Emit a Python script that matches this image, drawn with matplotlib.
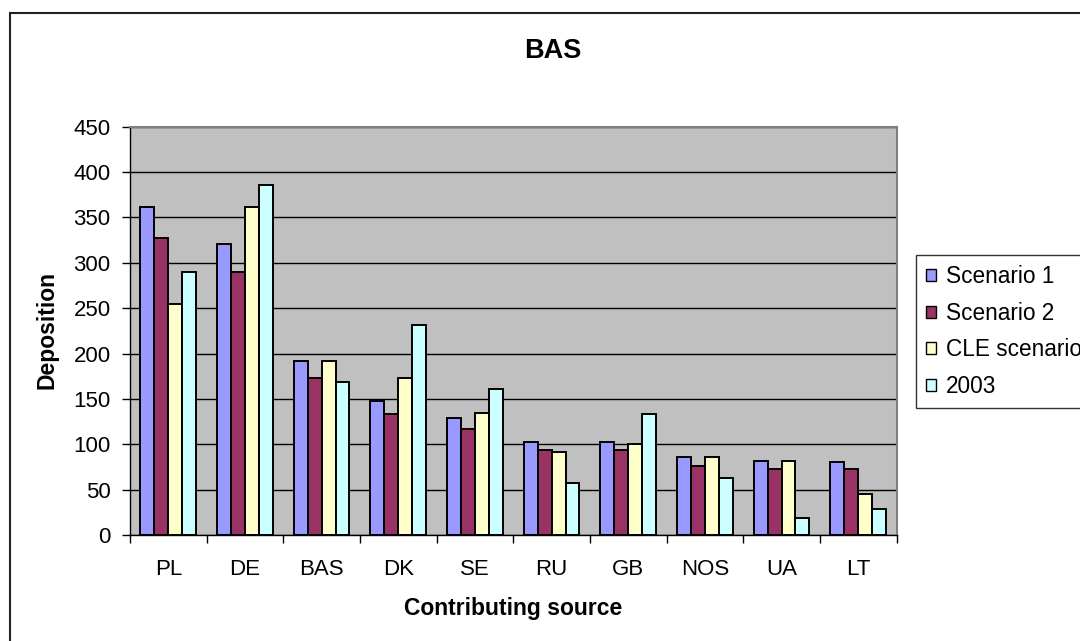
import matplotlib
matplotlib.use('Agg')
import matplotlib.pyplot as plt
import numpy as np
from matplotlib.patches import Rectangle

plt.rcParams['font.family'] = ['Liberation Sans', 'DejaVu Sans']

# deposition by contributing source
sources = ['PL', 'DE', 'BAS', 'DK', 'SE', 'RU', 'GB', 'NOS', 'UA', 'LT']
scenario_1 = [362, 321, 192, 148, 129, 103, 103, 86, 82, 80]
scenario_2 = [327, 290, 173, 133, 117, 94, 94, 76, 73, 73]
cle_scenario = [255, 362, 192, 173, 135, 92, 100, 86, 82, 45]
year_2003 = [290, 386, 169, 231, 161, 57, 133, 63, 19, 29]
series_names = ['Scenario 1', 'Scenario 2', 'CLE scenario', '2003']
colors = ['#9999FF', '#993366', '#FFFFCC', '#CCFFFF']

W, H = 1080, 641
fig = plt.figure(figsize=(W/100., H/100.), dpi=100)
fig.patch.set_facecolor('white')

# outer chart frame
fig.patches.append(Rectangle((10/W, -0.1), 1.2, 1 - 13/H + 0.1,
                             transform=fig.transFigure, fill=False,
                             edgecolor='#222222', lw=1.5))

ax = fig.add_axes([130/W, 1 - 535/H, (896.5-130)/W, (535-126.7)/H])
ax.set_facecolor('#C0C0C0')

n = len(sources)
x = np.arange(n) + 0.5
w = 1/5.5
ALL = [scenario_1, scenario_2, cle_scenario, year_2003]
for k, (vals, c) in enumerate(zip(ALL, colors)):
    ax.bar(x + (k-1.5)*w, vals, w, color=c, edgecolor='black', lw=1.4,
           zorder=3, label=series_names[k])

ax.set_xlim(0, n)
ax.set_ylim(0, 450)
ax.set_yticks(np.arange(0, 451, 50))
ax.yaxis.grid(True, color='black', lw=1, zorder=1)
ax.set_axisbelow(True)

ax.set_xticks(x)
ax.set_xticklabels(sources, fontsize=16)
ax.set_xticks(np.arange(n+1), minor=True)
ax.tick_params(axis='x', which='major', length=0, pad=17)
ax.tick_params(axis='x', which='minor', length=6, width=1, direction='out')
ax.tick_params(axis='y', length=6, width=1, direction='out', labelsize=16, pad=8)

for s in ['top', 'right']:
    ax.spines[s].set_color('#808080')
    ax.spines[s].set_linewidth(1.5)
for s in ['left', 'bottom']:
    ax.spines[s].set_color('black')
    ax.spines[s].set_linewidth(1)

fig.text(552.8/W, 1 - 51/H, 'BAS', fontsize=19.5, fontweight='bold',
         ha='center', va='center')
fig.text(47/W, 1 - 330/H, 'Deposition', fontsize=16.5, fontweight='bold',
         ha='center', va='center', rotation=90)
fig.text(513/W, 1 - 609/H, 'Contributing source', fontsize=16.5,
         fontweight='bold', ha='center', va='center')

# legend runs past the right edge of the chart frame
leg = ax.legend(loc='upper left', bbox_to_anchor=(915.7/W, 1 - 255/H),
                bbox_transform=fig.transFigure, fontsize=16.3, frameon=True,
                fancybox=False, edgecolor='black', borderaxespad=0,
                borderpad=0.45, handlelength=0.45, handleheight=0.45,
                handletextpad=0.45, labelspacing=0.6)
leg.get_frame().set_linewidth(1)
leg.get_frame().set_facecolor('white')
for h in leg.legend_handles:
    h.set_linewidth(1)

fig.savefig('out.png', dpi=100)
